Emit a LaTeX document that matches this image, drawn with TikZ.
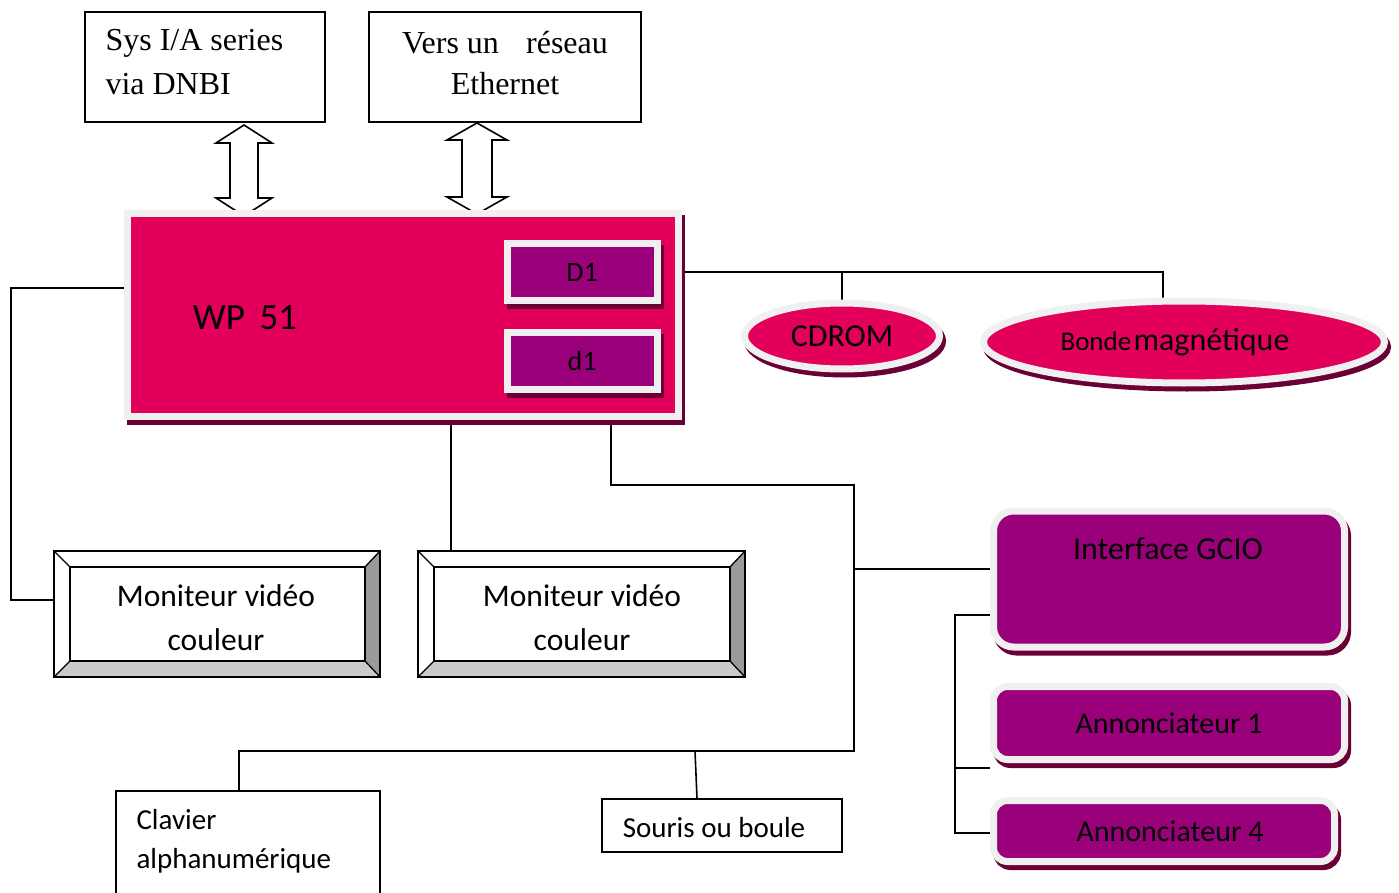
\documentclass[tikz,border=0pt]{standalone}
\usepackage{fontspec}
\setmainfont{Carlito}
\newfontfamily\serifnote{Liberation Serif}
\usetikzlibrary{calc,shapes.geometric}
\definecolor{crim}{HTML}{E2005A}
\definecolor{plum}{HTML}{9B007B}
\definecolor{rim}{HTML}{F0F0F0}
\definecolor{shade}{HTML}{6A0036}
\definecolor{bevR}{HTML}{9A9A9A}
\definecolor{bevB}{HTML}{CBCBCB}
\pgfdeclarelayer{bg}
\pgfsetlayers{bg,main}
\tikzset{
  wire/.style={draw=black, line width=1.6pt},
  plainbox/.style={rectangle, draw=black, fill=white, line width=1.6pt, inner sep=0pt},
  rimbox/.style={draw=rim, line width=7pt, inner sep=0pt,
    preaction={draw=shade, fill=shade, line width=7pt,
      transform canvas={shift={(3pt,-5pt)}}}},
  bevelbox/.style={rectangle, fill=white, inner sep=0pt},
  dblarrow/.style={draw=black, fill=white, line width=1.6pt, line join=miter},
}
% fonts in pixel-like sizes
\newcommand\fs[1]{\fontsize{#1pt}{1.2\dimexpr#1pt\relax}\selectfont}
% a bevelled frame around a rectangular node
\newcommand\drawbevel[1]{%
  \coordinate (#1-a) at ($(#1.north west)+(16,16)$);
  \coordinate (#1-b) at ($(#1.north east)+(-15,16)$);
  \coordinate (#1-c) at ($(#1.south east)+(-15,-16)$);
  \coordinate (#1-d) at ($(#1.south west)+(16,-16)$);
  \fill[bevR] (#1.north east) -- (#1.south east) -- (#1-c) -- (#1-b) -- cycle;
  \fill[bevB] (#1.south west) -- (#1.south east) -- (#1-c) -- (#1-d) -- cycle;
  \draw[line width=1.6pt] (#1.north west) rectangle (#1.south east);
  \draw[line width=1.6pt] (#1-a) -- (#1-b) -- (#1-c) -- (#1-d) -- cycle;
  \draw[line width=1.3pt] (#1.north west) -- (#1-a) (#1.north east) -- (#1-b)
     (#1.south east) -- (#1-c) (#1.south west) -- (#1-d);
}
% hollow two-headed arrow: centre x, top tip, bottom tip, head half width, shaft half width, head length
\newcommand\hollowarrow[6]{%
  \draw[dblarrow] (#1,#2) -- ++(#4,#6) -- (#1+#5,#2+#6) -- (#1+#5,#3-#6)
    -- (#1+#4,#3-#6) -- (#1,#3) -- (#1-#4,#3-#6) -- (#1-#5,#3-#6)
    -- (#1-#5,#2+#6) -- (#1-#4,#2+#6) -- cycle;
}
\begin{document}
\begin{tikzpicture}[x=1pt,y=-1pt]
\useasboundingbox (0,0) rectangle (1399,893);

% upper links
\node[plainbox, minimum width=240, minimum height=110] (sys) at (205,67) {};
\node[anchor=west, font=\serifnote\fs{32}] at (102,43) {Sys I/A series};
\node[anchor=west, font=\serifnote\fs{32}] at (102,84) {via DNBI};
\node[plainbox, minimum width=272, minimum height=110] (eth) at (505,67) {};
\node[font=\serifnote\fs{32}] at (505,43) {Vers un\hspace{0.85em}réseau};
\node[font=\serifnote\fs{32}] at (505,84) {Ethernet};

\hollowarrow{244}{125}{216}{28}{14}{18}
\hollowarrow{477}{123}{214}{30}{15}{17}

% workstation
\node[rimbox, fill=crim, minimum width=551, minimum height=202] (wp) at (403,315) {};
\node[font=\fs{37}] at (245,318) {WP\hspace{0.4em}51};
\node[rimbox, fill=plum, minimum width=150, minimum height=57, font=\fs{28}] (D1) at (582,272) {D1};
\node[rimbox, fill=plum, minimum width=150, minimum height=57, font=\fs{28}] (d1) at (582,361) {d1};

% storage
\node[ellipse, rimbox, fill=crim, minimum width=195, minimum height=66, font=\fs{32}] (cdrom) at (842,336) {CDROM};
\node[ellipse, rimbox, fill=crim, minimum width=401, minimum height=82] (bande) at (1184,342)
  {\hspace{-18pt}{\fs{27}Bonde} {\fs{32}magnétique}};

% monitors
\node[bevelbox, minimum width=326, minimum height=126] (mon1) at (217,614) {};
\drawbevel{mon1}
\node[font=\fs{31.5}] at (216,596) {Moniteur vidéo};
\node[font=\fs{31.5}] at (216,640) {couleur};
\node[bevelbox, minimum width=327, minimum height=126] (mon2) at (581.5,614) {};
\drawbevel{mon2}
\node[font=\fs{31.5}] at (582,596) {Moniteur vidéo};
\node[font=\fs{31.5}] at (582,640) {couleur};

% GCIO side
\node[rimbox, fill=plum, rounded corners=20pt, minimum width=351, minimum height=136] (gcio) at (1169,579) {};
\node[font=\fs{32}] at (1168,549) {Interface GCIO};
\node[rimbox, fill=plum, rounded corners=14pt, minimum width=351, minimum height=73, font=\fs{30}] (ann1) at (1169,723) {Annonciateur 1};
\node[rimbox, fill=plum, rounded corners=14pt, minimum width=341, minimum height=61, font=\fs{30}] (ann4) at (1164,831) {\hspace{12pt}Annonciateur 4};

% input devices
\node[plainbox, minimum width=264, minimum height=120] (clav) at (248,851) {};
\node[anchor=west, font=\fs{29}] at (133,820) {Clavier};
\node[anchor=west, font=\fs{29}] at (133,861) {alphanumérique};
\node[plainbox, minimum width=240, minimum height=53] (souris) at (722,825.5) {};
\node[font=\fs{29}] at (714,828) {Souris ou boule};

% wiring
\begin{pgfonlayer}{bg}
  \draw[wire] (wp.center |- 0,272) -| (bande.center -| 1163,0);
  \draw[wire] (cdrom.center |- 0,272) -- (cdrom.center);
  \draw[wire] (wp.center |- 0,288) -| (11,600) -- (mon1.center |- 0,600);
  \draw[wire] (wp.center -| 451,0) -- (mon2.center -| 451,0);
  \draw[wire] (wp.center -| 611,0) |- (854,485) |- (239,751) -- (clav.center -| 239,0);
  \draw[wire] (854,569) -- (gcio.center |- 0,569);
  \draw[wire] (695,751) -- (souris.north -| 697,0);
  \draw[wire] (gcio.center |- 0,615) -| (955,833) -- (ann4.center |- 0,833);
  \draw[wire] (955,768) -- (ann1.west |- 0,768);
\end{pgfonlayer}
\end{tikzpicture}
\end{document}
